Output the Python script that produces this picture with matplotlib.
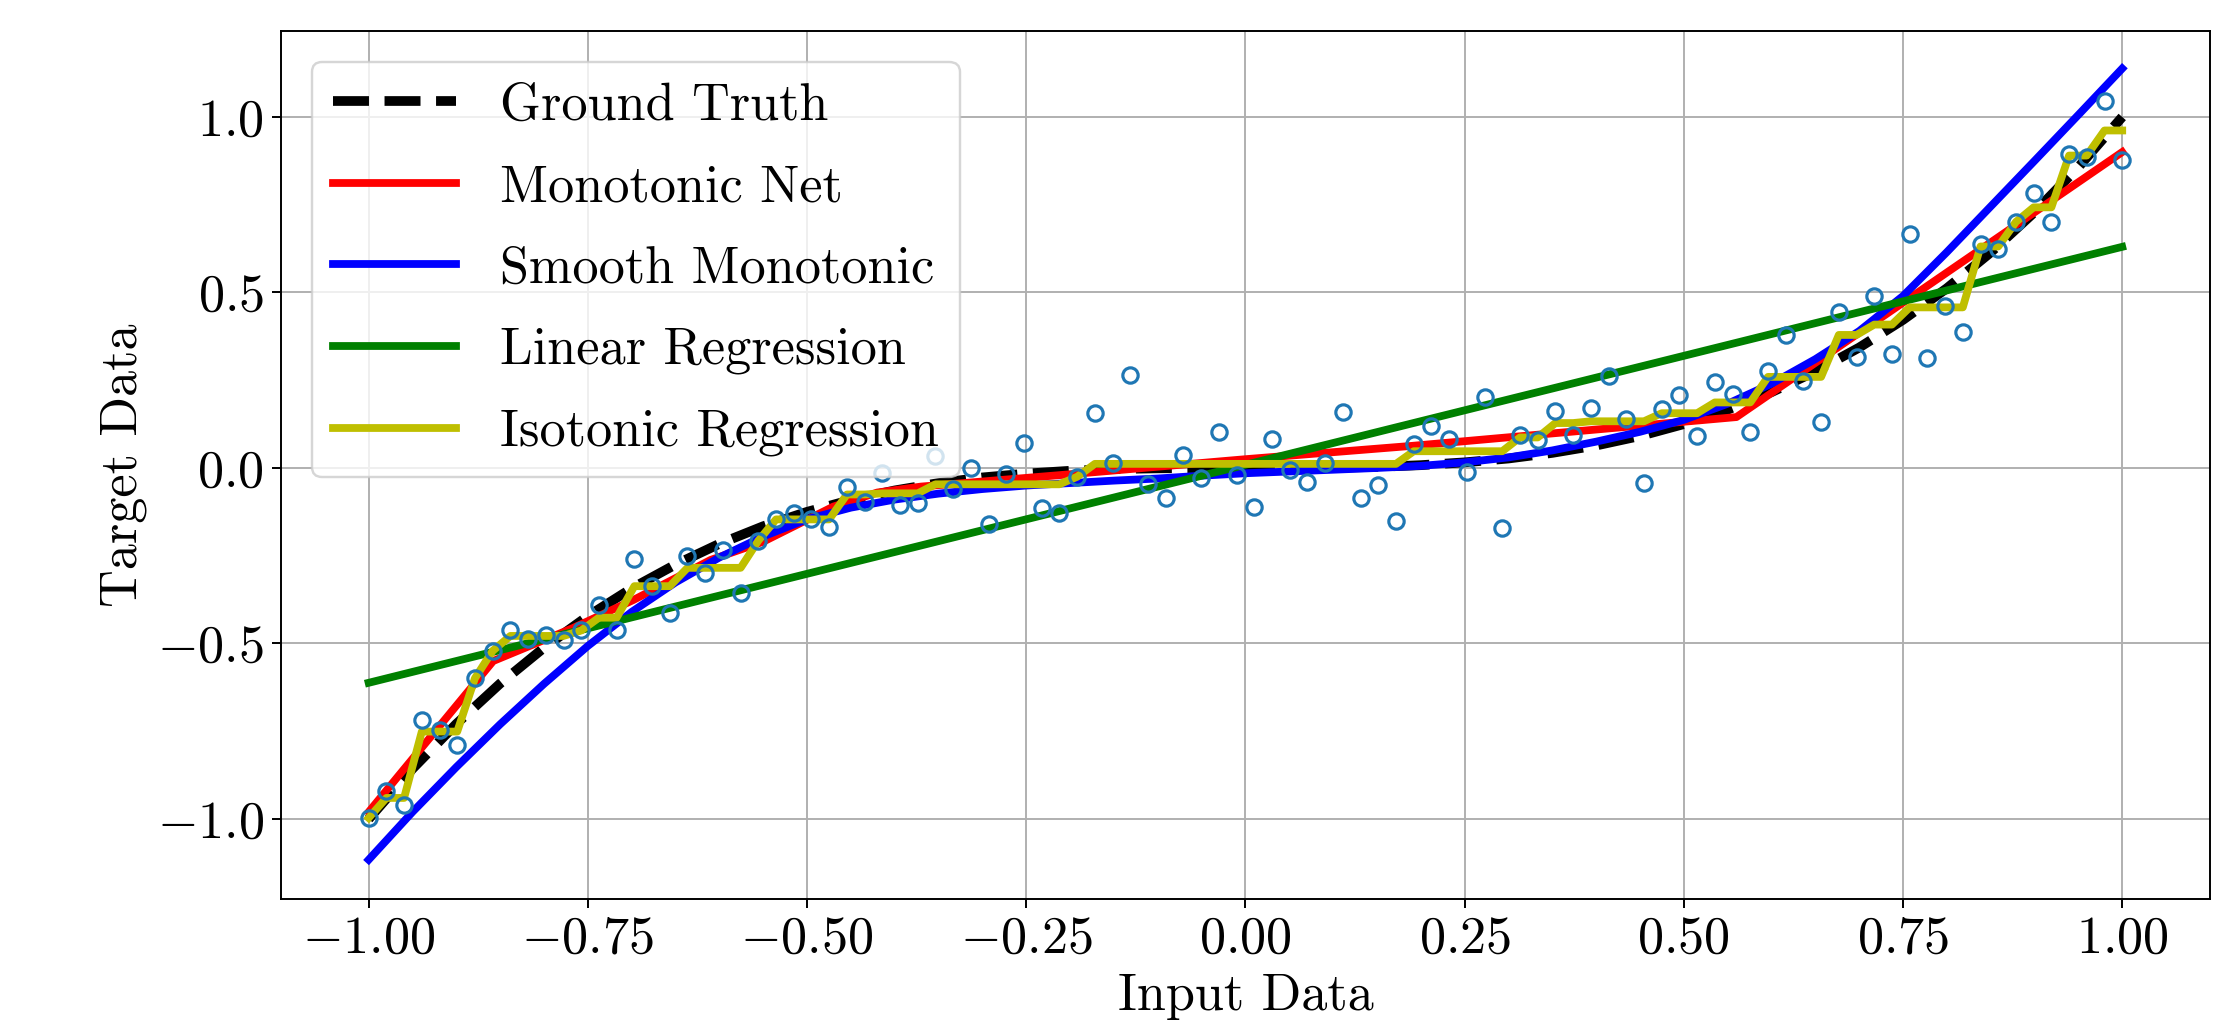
import numpy as np
import matplotlib
matplotlib.use("Agg")
import matplotlib.pyplot as plt

# ---------------- data ----------------
x_points = np.linspace(-1.0, 1.0, 100)
y_points = [
    -0.997, -0.921, -0.959, -0.717, -0.746, -0.790, -0.599, -0.521, -0.461, -0.488,
    -0.475, -0.490, -0.463, -0.390, -0.463, -0.260, -0.336, -0.414, -0.250, -0.298,
    -0.233, -0.357, -0.207, -0.146, -0.129, -0.144, -0.167, -0.055, -0.096, -0.013,
    -0.105, -0.099, 0.034, -0.060, 0.001, -0.159, -0.016, 0.070, -0.113, -0.129,
    -0.025, 0.158, 0.013, 0.265, -0.046, -0.085, 0.037, -0.028, 0.102, -0.020,
    -0.110, 0.082, -0.006, -0.041, 0.015, 0.160, -0.086, -0.048, -0.151, 0.067,
    0.120, 0.082, -0.012, 0.201, -0.172, 0.094, 0.080, 0.162, 0.094, 0.172,
    0.263, 0.139, -0.042, 0.168, 0.208, 0.092, 0.246, 0.211, 0.103, 0.277,
    0.380, 0.249, 0.132, 0.443, 0.315, 0.491, 0.326, 0.666, 0.314, 0.462,
    0.388, 0.637, 0.625, 0.701, 0.784, 0.701, 0.894, 0.886, 1.046, 0.877,
]

# Isotonic regression: step levels and how many consecutive points share each level
iso_levels = [-0.997, -0.940, -0.751, -0.599, -0.521, -0.4785, -0.463, -0.4265,
              -0.3367, -0.2845, -0.207, -0.1465, -0.0755, -0.0723, -0.0465, -0.025,
              0.0117, 0.0477, 0.087, 0.128, 0.133, 0.156, 0.1867, 0.2595,
              0.379, 0.4085, 0.4575, 0.631, 0.701, 0.7425, 0.890, 0.9615]
iso_counts = [1, 2, 3, 1, 1, 4, 1, 2,
              3, 4, 1, 4, 2, 3, 8, 1,
              18, 6, 2, 2, 4, 3, 3, 4,
              2, 2, 4, 2, 1, 2, 2, 2]

# Shared x grid for the smooth curves
curve_x = [-1.0, -0.95, -0.9, -0.85, -0.8, -0.75, -0.7, -0.65, -0.6, -0.55, -0.5,
           -0.45, -0.4, -0.35, -0.3, -0.25, -0.2, -0.15, -0.1, -0.05, 0.0,
           0.05, 0.1, 0.15, 0.2, 0.25, 0.3, 0.35, 0.4, 0.45, 0.5,
           0.55, 0.6, 0.65, 0.7, 0.75, 0.8, 0.85, 0.9, 0.95, 1.0]

# Ground truth curve
gt_y = [-1.0, -0.857, -0.729, -0.614, -0.512, -0.422, -0.343, -0.275, -0.216, -0.166, -0.125,
        -0.091, -0.064, -0.043, -0.027, -0.016, -0.008, -0.003, -0.001, -0.0001, 0.0,
        0.0001, 0.001, 0.003, 0.008, 0.016, 0.027, 0.043, 0.064, 0.091, 0.125,
        0.166, 0.216, 0.275, 0.343, 0.422, 0.512, 0.614, 0.729, 0.857, 1.0]

# Smooth monotonic model
smooth_y = [-1.116, -0.98, -0.852, -0.73, -0.615, -0.507, -0.41, -0.326, -0.255, -0.195, -0.146,
            -0.113, -0.09, -0.073, -0.06, -0.05, -0.043, -0.036, -0.03, -0.022, -0.015,
            -0.01, -0.005, 0.0, 0.006, 0.016, 0.030, 0.05, 0.075, 0.103, 0.137,
            0.183, 0.24, 0.31, 0.39, 0.49, 0.615, 0.745, 0.875, 1.006, 1.138]

# Monotonic net (piecewise linear)
mono_x = [-1.0, -0.858, -0.767, -0.698, -0.61, -0.55, -0.47, -0.42, -0.37, -0.21, 0.0,
          0.19, 0.56, 1.0]
mono_y = [-0.98, -0.55, -0.456, -0.376, -0.262, -0.21, -0.11, -0.07, -0.053, -0.02, 0.025,
          0.063, 0.145, 0.90]

# Linear regression
lin_x = [-1.0, 1.0]
lin_y = [-0.612, 0.630]

# ---------------- style ----------------
FS = 21.5
plt.rcParams['font.family'] = 'serif'
plt.rcParams['font.serif'] = ['cmr10', 'DejaVu Serif']
plt.rcParams['mathtext.fontset'] = 'cm'
plt.rcParams['axes.formatter.use_mathtext'] = True

DPI = 175
fig = plt.figure(figsize=(2239 / DPI, 1025 / DPI), dpi=DPI)
ax = fig.add_axes([0.1255, 0.1229, 0.8615, 0.8469])

iso_y = np.repeat(iso_levels, iso_counts)

ax.plot(curve_x, gt_y, 'k--', lw=4, label='Ground Truth')
ax.plot(mono_x, mono_y, 'r-', lw=3.2, label='Monotonic Net')
ax.plot(curve_x, smooth_y, 'b-', lw=3.2, label='Smooth Monotonic')
ax.plot(lin_x, lin_y, 'g-', lw=3.2, label='Linear Regression')
ax.plot(x_points, iso_y, 'y-', lw=3.2, label='Isotonic Regression')
ax.plot(x_points, y_points, 'o', mfc='none', mec='#1f77b4', ms=6.3, mew=1.3)

ax.set_xlim(-1.1, 1.1)
ax.set_ylim(-1.228, 1.245)
ax.set_xticks([-1.0, -0.75, -0.5, -0.25, 0.0, 0.25, 0.5, 0.75, 1.0])
ax.set_yticks([-1.0, -0.5, 0.0, 0.5, 1.0])
ax.tick_params(labelsize=FS)
ax.grid(True)
ax.set_xlabel('Input Data', fontsize=FS)
ax.set_ylabel('Target Data', fontsize=FS)

ax.legend(loc='upper left', fontsize=FS, handlelength=2.35, borderaxespad=0.59,
          handletextpad=0.85, labelspacing=0.66)

fig.savefig('out.png', dpi=DPI)
